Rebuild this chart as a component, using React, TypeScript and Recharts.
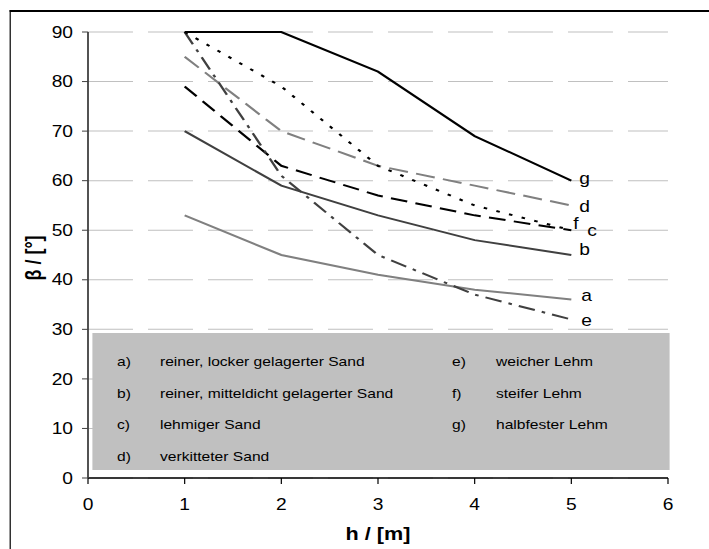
import React from "react";
import { LineChart, Line, XAxis, YAxis, CartesianGrid, Label } from "recharts";

/* ── Böschungswinkel β über Höhe h ── */

const heights = [1, 2, 3, 4, 5];
const seriesA = [53, 45, 41, 38, 36];
const seriesB = [70, 59, 53, 48, 45];
const seriesC = [79, 63, 57, 53, 50];
const seriesD = [85, 70, 63, 59, 55];
const seriesE = [90, 61, 45, 37, 32];
const seriesF = [90, 79, 63, 55, 50];
const seriesG = [90, 90, 82, 69, 60];

const xTicks = [0, 1, 2, 3, 4, 5, 6];
const yTicks = [0, 10, 20, 30, 40, 50, 60, 70, 80, 90];

const legendLeft = [
  ["a)", "reiner, locker gelagerter Sand"],
  ["b)", "reiner, mitteldicht gelagerter Sand"],
  ["c)", "lehmiger Sand"],
  ["d)", "verkitteter Sand"],
];
const legendRight = [
  ["e)", "weicher Lehm"],
  ["f)", "steifer Lehm"],
  ["g)", "halbfester Lehm"],
];

const data = heights.map((h, i) => ({
  h,
  a: seriesA[i],
  b: seriesB[i],
  c: seriesC[i],
  d: seriesD[i],
  e: seriesE[i],
  f: seriesF[i],
  g: seriesG[i],
}));

// the original picture is stretched sideways, so draw narrower and scale up
const SX = 1.2;
const sx = (v: number) => v / SX;
const FONT = '"Liberation Sans", Arial, sans-serif';

const SERIES = [
  { key: "a", color: "#808080", dash: undefined, dx: 10, dy: 1 },
  { key: "b", color: "#404040", dash: undefined, dx: 8, dy: 0 },
  { key: "c", color: "#000000", dash: "14 7", dx: 16, dy: 6 },
  { key: "d", color: "#808080", dash: "16 7", dx: 8, dy: 7 },
  { key: "e", color: "#404040", dash: "14 6 3 6", dx: 10, dy: 7 },
  { key: "f", color: "#000000", dash: "3 8", dx: 2, dy: -1 },
  { key: "g", color: "#000000", dash: undefined, dx: 8, dy: 3 },
];

function endLabel(letter: string, dx: number, dy: number) {
  return (props: any) => {
    if (props.index !== heights.length - 1) return <g key={props.index} />;
    return (
      <text
        key={props.index}
        x={props.x + sx(dx)}
        y={props.y + dy}
        fontSize={16}
        fontFamily={FONT}
        fill="#000"
      >
        {letter}
      </text>
    );
  };
}

const tickStyle = { fill: "#000", fontSize: 16, fontFamily: FONT };

export default function App() {
  return (
    <div
      style={{
        position: "absolute",
        left: 0,
        top: 0,
        width: 709,
        height: 549,
        overflow: "hidden",
        background: "#fff",
      }}
    >
      <div
        style={{
          position: "absolute",
          left: 0,
          top: 0,
          width: sx(709),
          height: 549,
          transform: `scaleX(${SX})`,
          transformOrigin: "0 0",
          fontFamily: FONT,
        }}
      >
        <div
          style={{
            position: "absolute",
            left: sx(10),
            top: 10,
            width: sx(760),
            height: 600,
            borderLeft: `${sx(2)}px solid #000`,
            borderTop: "2px solid #000",
          }}
        />
        <LineChart
          width={sx(709)}
          height={549}
          data={data}
          margin={{ top: 32, right: sx(41), bottom: 1, left: sx(8) }}
        >
          <CartesianGrid
            vertical={false}
            stroke="#c0c0c0"
            strokeDasharray={`${sx(45)} ${sx(15)}`}
          />
          <XAxis
            type="number"
            dataKey="h"
            domain={[0, 6]}
            ticks={xTicks}
            interval={0}
            height={70}
            tickSize={6}
            tickMargin={15}
            tick={tickStyle}
            axisLine={{ stroke: "#000", strokeWidth: 1.5 }}
            tickLine={{ stroke: "#000" }}
          >
            <Label
              content={() => (
                <text
                  x={sx(378)}
                  y={540}
                  textAnchor="middle"
                  fontSize={18}
                  fontWeight="bold"
                  fontFamily={FONT}
                  fill="#000"
                >
                  h / [m]
                </text>
              )}
            />
          </XAxis>
          <YAxis
            type="number"
            domain={[0, 90]}
            ticks={yTicks}
            interval={0}
            width={sx(80)}
            tickSize={sx(6)}
            tickMargin={sx(9)}
            tick={tickStyle}
            axisLine={{ stroke: "#404040", strokeWidth: 1.5 }}
            tickLine={{ stroke: "#404040" }}
          >
            <Label
              content={() => (
                <text
                  transform={`translate(${sx(41)}, 258) rotate(-90)`}
                  textAnchor="middle"
                  fontSize={18}
                  fontWeight="bold"
                  fontFamily={FONT}
                  fill="#000"
                >
                  β / [°]
                </text>
              )}
            />
          </YAxis>
          {SERIES.map((s) => (
            <Line
              key={s.key}
              type="linear"
              dataKey={s.key}
              stroke={s.color}
              strokeWidth={2}
              strokeDasharray={s.dash}
              dot={false}
              activeDot={false}
              isAnimationActive={false}
              label={endLabel(s.key, s.dx, s.dy)}
            />
          ))}
        </LineChart>
        <div
          style={{
            position: "absolute",
            left: sx(92),
            top: 333,
            width: sx(578),
            height: 137,
            background: "#c0c0c0",
            overflow: "hidden",
            fontSize: 13,
            color: "#000",
          }}
        >
          {legendLeft.map(([tag, text], i) => (
            <div key={tag} style={{ position: "absolute", top: 21 + i * 31.7, lineHeight: "16px", left: 0, whiteSpace: "nowrap" }}>
              <span style={{ position: "absolute", left: sx(25) }}>{tag}</span>
              <span style={{ position: "absolute", left: sx(68) }}>{text}</span>
            </div>
          ))}
          {legendRight.map(([tag, text], i) => (
            <div key={tag} style={{ position: "absolute", top: 21 + i * 31.7, lineHeight: "16px", left: 0, whiteSpace: "nowrap" }}>
              <span style={{ position: "absolute", left: sx(360) }}>{tag}</span>
              <span style={{ position: "absolute", left: sx(404) }}>{text}</span>
            </div>
          ))}
        </div>
      </div>
    </div>
  );
}
